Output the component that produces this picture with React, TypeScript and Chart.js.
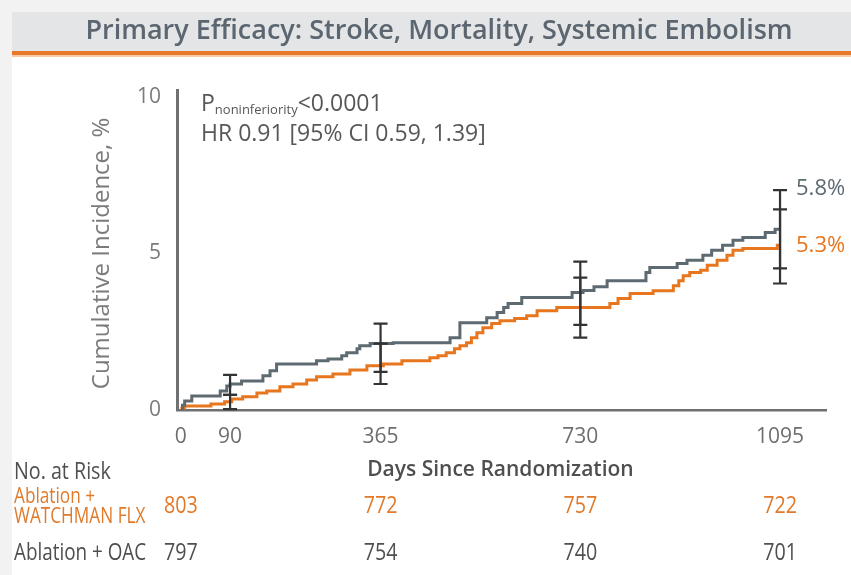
import React, { useEffect, useRef } from "react";
import { Chart, registerables } from "chart.js";

Chart.register(...registerables);

// ---------- data ----------
const titleText = "Primary Efficacy: Stroke, Mortality, Systemic Embolism";
const yAxisTitle = "Cumulative Incidence, %";
const xAxisTitle = "Days Since Randomization";
const xTickValues = [0, 90, 365, 730, 1095];
const yTickValues = [0, 5, 10];

const oacDays = [0, 3, 7, 20, 72, 84, 90, 111, 150, 163, 175, 248, 269, 294, 303, 322, 327, 346, 388, 492, 510, 559, 578, 590, 598, 623, 715, 735, 755, 779, 850, 857, 907, 925, 954, 970, 990, 1009, 1027, 1068, 1086, 1095];
const oacValues = [0, 0.15, 0.29, 0.45, 0.61, 0.77, 0.83, 0.93, 1.09, 1.25, 1.47, 1.57, 1.63, 1.73, 1.83, 1.96, 2.05, 2.12, 2.15, 2.31, 2.79, 2.95, 3.11, 3.27, 3.4, 3.59, 3.75, 3.82, 3.94, 4.13, 4.39, 4.55, 4.68, 4.78, 4.94, 5.1, 5.26, 5.42, 5.51, 5.67, 5.77, 5.77];

const flxDays = [0, 2, 7, 55, 80, 93, 113, 139, 157, 181, 205, 230, 248, 278, 309, 340, 370, 404, 455, 470, 485, 500, 510, 522, 531, 541, 552, 568, 583, 610, 632, 651, 687, 784, 799, 821, 863, 900, 910, 918, 930, 950, 962, 980, 998, 1009, 1027, 1090, 1095];
const flxValues = [0, 0.06, 0.13, 0.19, 0.26, 0.35, 0.42, 0.54, 0.61, 0.74, 0.83, 0.96, 1.06, 1.15, 1.28, 1.41, 1.47, 1.57, 1.67, 1.73, 1.83, 1.96, 2.05, 2.15, 2.31, 2.47, 2.63, 2.76, 2.85, 2.92, 3.01, 3.17, 3.27, 3.4, 3.56, 3.72, 3.81, 3.97, 4.13, 4.29, 4.39, 4.46, 4.62, 4.78, 4.94, 5.1, 5.16, 5.26, 5.26];

const ciDays = [90, 365, 730, 1095];
const oacCiLow = [0.48, 1.22, 2.72, 4.52];
const oacCiHigh = [1.12, 2.76, 4.74, 7.02];
const flxCiLow = [0.03, 0.83, 2.31, 4.04];
const flxCiHigh = [0.48, 2.12, 4.23, 6.41];

const endLabels = ["5.8%", "5.3%"];
const pLabelMain = "P";
const pLabelSub = "noninferiority";
const pLabelValue = "<0.0001";
const hrLabel = "HR 0.91 [95% CI 0.59, 1.39]";

const riskTitle = "No. at Risk";
const riskDays = [0, 365, 730, 1095];
const flxGroupLines = ["Ablation +", "WATCHMAN FLX"];
const oacGroupLabel = "Ablation + OAC";
const flxAtRisk = [803, 772, 757, 722];
const oacAtRisk = [797, 754, 740, 701];

// ---------- styles ----------
const GRAY = "#5e6a71";
const ORANGE = "#e8761e";
const AXIS = "#6f7072";
const BAR = "#333333";
const FONT = '"Open Sans", "Noto Sans", sans-serif';

function drawText(
  ctx: CanvasRenderingContext2D,
  text: string,
  x: number,
  y: number,
  font: string,
  color: string,
  align: CanvasTextAlign,
  sx = 1
) {
  ctx.save();
  ctx.font = font;
  ctx.fillStyle = color;
  ctx.textBaseline = "middle";
  ctx.textAlign = align;
  ctx.translate(x, y);
  ctx.scale(sx, 1);
  ctx.fillText(text, 0, 0);
  ctx.restore();
}

const backgroundPlugin = {
  id: "bg",
  beforeDraw(chart: any) {
    const ctx: CanvasRenderingContext2D = chart.ctx;
    const W = chart.width;
    const H = chart.height;
    ctx.save();
    ctx.fillStyle = "#ffffff";
    ctx.fillRect(0, 0, W, H);
    ctx.fillStyle = "#f2f2f2";
    ctx.fillRect(0, 0, W, 12);
    ctx.fillRect(0, 0, 12, H);
    ctx.fillStyle = "#e4e5e6";
    ctx.fillRect(12, 12, W - 12, 39);
    ctx.fillStyle = "#e9782a";
    ctx.fillRect(12, 51, W - 12, 4);
    ctx.fillStyle = "#f6c9a8";
    ctx.fillRect(12, 55, W - 12, 2);
    ctx.font = `600 27px ${FONT}`;
    const w = ctx.measureText(titleText).width;
    const sx = Math.min(1, 710 / w);
    drawText(ctx, titleText, 439, 31, `600 27px ${FONT}`, "#5b6670", "center", sx);
    ctx.restore();
  },
};

const overlayPlugin = {
  id: "overlay",
  afterDatasetsDraw(chart: any) {
    const ctx: CanvasRenderingContext2D = chart.ctx;
    const xs = chart.scales.x;
    const ys = chart.scales.y;
    ctx.save();
    ctx.strokeStyle = BAR;
    ctx.lineWidth = 2.2;
    const cap = 7;
    const drawBar = (d: number, lo: number, hi: number) => {
      const x = xs.getPixelForValue(d);
      const y1 = ys.getPixelForValue(lo);
      const y2 = ys.getPixelForValue(hi);
      ctx.beginPath();
      ctx.moveTo(x, y1);
      ctx.lineTo(x, y2);
      ctx.moveTo(x - cap, y1);
      ctx.lineTo(x + cap, y1);
      ctx.moveTo(x - cap, y2);
      ctx.lineTo(x + cap, y2);
      ctx.stroke();
    };
    ciDays.forEach((d, i) => {
      drawBar(d, oacCiLow[i], oacCiHigh[i]);
      drawBar(d, flxCiLow[i], flxCiHigh[i]);
    });
    ctx.restore();
  },
  afterDraw(chart: any) {
    const ctx: CanvasRenderingContext2D = chart.ctx;
    const xs = chart.scales.x;
    const ys = chart.scales.y;
    const area = chart.chartArea;

    // y axis title
    ctx.save();
    ctx.translate(102, (ys.getPixelForValue(0) + ys.getPixelForValue(10)) / 2);
    ctx.rotate(-Math.PI / 2);
    drawText(ctx, yAxisTitle, 0, 0, `400 24px ${FONT}`, "#7b7b7b", "center");
    ctx.restore();

    // annotation
    const ax = area.left + 24;
    const top = ys.getPixelForValue(10);
    const l1 = top + 8;
    const l2 = top + 38;
    const txtColor = "#575757";
    ctx.save();
    ctx.textBaseline = "middle";
    ctx.font = `400 23px ${FONT}`;
    ctx.fillStyle = txtColor;
    ctx.fillText(pLabelMain, ax, l1);
    let cx = ax + ctx.measureText(pLabelMain).width;
    ctx.font = `400 13px ${FONT}`;
    ctx.fillText(pLabelSub, cx, l1 + 5);
    cx += ctx.measureText(pLabelSub).width;
    ctx.font = `400 23px ${FONT}`;
    ctx.fillText(pLabelValue, cx, l1);
    ctx.fillText(hrLabel, ax, l2);
    ctx.restore();

    // end labels
    const ex = xs.getPixelForValue(1095) + 16;
    drawText(ctx, endLabels[0], ex, ys.getPixelForValue(oacCiHigh[3]) - 1, `400 22px ${FONT}`, GRAY, "left");
    drawText(ctx, endLabels[1], ex, ys.getPixelForValue(flxValues[flxValues.length - 1]), `400 22px ${FONT}`, ORANGE, "left");

    // risk table
    const dark = "#4f4f4f";
    const orangeTxt = "#e07a2a";
    const cond = 0.82;
    const rf = `400 24px ${FONT}`;
    drawText(ctx, riskTitle, 14, 472, rf, dark, "left", cond);
    drawText(ctx, xAxisTitle, (xs.getPixelForValue(365) + xs.getPixelForValue(730)) / 2 + 20, 470, `600 21px ${FONT}`, dark, "center");
    drawText(ctx, flxGroupLines[0], 14, 497, `400 21px ${FONT}`, orangeTxt, "left", cond);
    drawText(ctx, flxGroupLines[1], 14, 517, `400 21px ${FONT}`, orangeTxt, "left", cond);
    drawText(ctx, oacGroupLabel, 14, 553, `400 23px ${FONT}`, dark, "left", cond);
    riskDays.forEach((d, i) => {
      const x = xs.getPixelForValue(d);
      drawText(ctx, String(flxAtRisk[i]), x, 506, rf, orangeTxt, "center", cond);
      drawText(ctx, String(oacAtRisk[i]), x, 553, rf, dark, "center", cond);
    });
  },
};

export default function App() {
  const ref = useRef<HTMLCanvasElement>(null);
  useEffect(() => {
    const canvas = ref.current;
    if (!canvas) return;
    const chart = new Chart(canvas, {
      type: "line",
      data: {
        datasets: [
          {
            label: "Ablation + OAC",
            data: oacDays.map((d, i) => ({ x: d, y: oacValues[i] })),
            borderColor: GRAY,
            borderWidth: 3,
            stepped: "before",
            pointRadius: 0,
            fill: false,
          },
          {
            label: "Ablation + WATCHMAN FLX",
            data: flxDays.map((d, i) => ({ x: d, y: flxValues[i] })),
            borderColor: ORANGE,
            borderWidth: 3,
            stepped: "before",
            pointRadius: 0,
            fill: false,
          },
        ],
      },
      options: {
        responsive: false,
        maintainAspectRatio: false,
        animation: false,
        layout: { padding: { left: 0, top: 90, right: 25, bottom: 0 } },
        plugins: {
          legend: { display: false },
          tooltip: { enabled: false },
          title: { display: false },
        },
        scales: {
          x: {
            type: "linear",
            min: -7,
            max: 1179,
            grid: { display: false, drawTicks: false },
            border: { display: true, color: AXIS, width: 2.5 },
            ticks: {
              padding: 14,
              color: "#6e6e6e",
              font: { family: FONT, size: 21 },
              autoSkip: false,
              maxRotation: 0,
              callback: (v: any) => String(v),
            },
            afterBuildTicks: (s: any) => {
              s.ticks = xTickValues.map((v) => ({ value: v }));
            },
            afterFit: (s: any) => {
              s.height = 165;
            },
          },
          y: {
            type: "linear",
            min: 0,
            max: 10.22,
            grid: { display: false, drawTicks: false },
            border: { display: true, color: AXIS, width: 3 },
            ticks: {
              padding: 16,
              color: "#7b7b7b",
              font: { family: FONT, size: 21 },
              autoSkip: false,
              callback: (v: any) => String(v),
            },
            afterBuildTicks: (s: any) => {
              s.ticks = yTickValues.map((v) => ({ value: v }));
            },
            afterFit: (s: any) => {
              s.width = 177;
            },
          },
        },
      },
      plugins: [backgroundPlugin, overlayPlugin],
    } as any);
    return () => chart.destroy();
  }, []);
  return (
    <div style={{ position: "fixed", left: 0, top: 0, width: 851, height: 575 }}>
      <canvas ref={ref} width={851} height={575} style={{ display: "block" }} />
    </div>
  );
}
